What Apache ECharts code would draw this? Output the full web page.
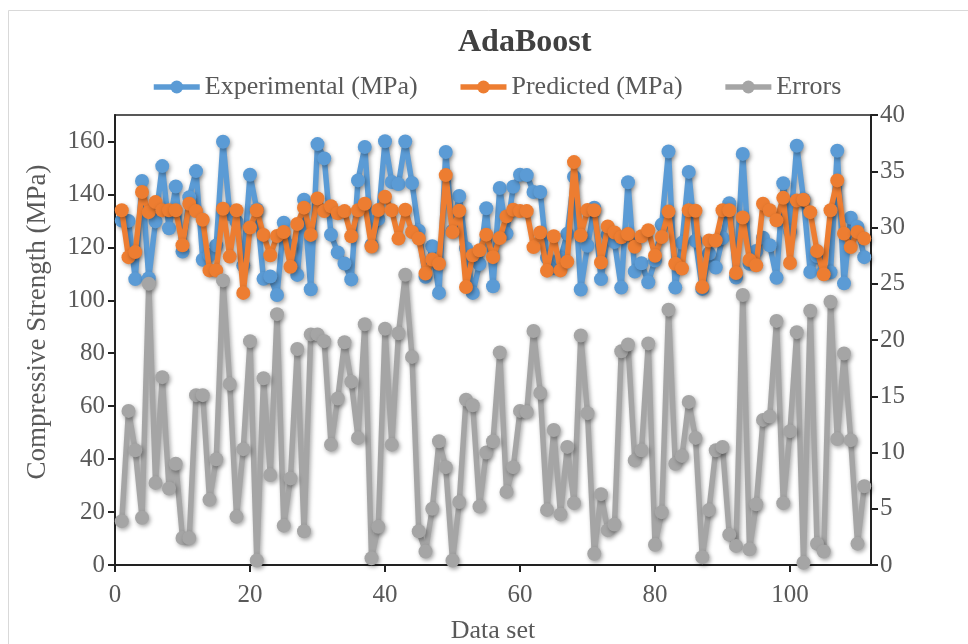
<!DOCTYPE html>
<html>
<head>
<meta charset="utf-8">
<script src="https://cdn.jsdelivr.net/npm/echarts@6/dist/echarts.min.js"></script>
<style>
html,body{margin:0;padding:0;background:#fff;}
#chart{width:968px;height:644px;}
</style>
</head>
<body>
<div id="chart"></div>
<script>
// Data set index 1..111
const experimental = [130.1,130.0,108.0,145.1,108.3,129.8,150.7,127.2,143.0,118.4,138.9,148.8,115.3,117.1,120.7,159.9,132.6,129.7,113.1,147.4,134.4,108.1,109.0,102.0,129.3,120.4,109.6,138.0,104.2,159.0,153.6,124.8,118.1,113.9,107.9,145.3,157.9,120.9,130.7,160.1,144.7,143.9,160.0,144.3,126.3,108.9,120.4,102.8,156.0,126.2,139.4,119.7,102.8,113.7,134.8,105.3,142.4,125.2,142.9,147.4,147.3,140.9,140.9,116.1,112.2,115.8,125.1,146.7,104.1,120.6,135.0,108.0,124.8,122.0,104.8,144.6,110.9,114.0,106.8,115.0,128.6,156.2,104.8,121.7,148.5,122.5,104.3,117.7,112.4,123.5,136.7,108.6,155.3,113.8,118.6,123.6,120.8,108.5,144.2,126.0,158.4,138.2,110.7,116.7,111.0,110.6,156.5,106.4,131.2,127.7,116.3];
const predicted = [134.0,116.3,118.2,140.9,133.3,137.1,134.0,134.0,134.0,120.8,136.5,133.7,130.4,111.3,111.3,134.6,116.5,134.0,102.8,127.5,134.0,124.7,117.0,124.3,125.8,112.7,128.8,135.0,124.7,138.5,133.7,135.5,132.9,133.7,124.2,134.0,136.5,120.3,134.1,139.1,134.0,123.3,134.2,125.8,123.3,110.1,115.4,113.8,147.3,125.8,133.8,105.0,117.0,118.9,124.8,116.3,123.5,131.7,134.2,133.7,133.7,120.1,125.6,111.2,124.2,111.3,114.6,152.2,124.5,134.1,134.0,114.3,127.9,125.6,123.8,125.0,120.2,124.2,126.5,116.8,123.9,133.5,113.8,112.0,134.0,133.8,105.0,122.6,122.6,134.0,134.0,110.3,131.3,115.2,113.2,136.5,134.0,130.2,138.7,114.1,137.7,138.0,133.3,118.6,109.8,134.0,145.3,125.2,120.1,125.8,123.3];
const errors = [3.9,13.7,10.2,4.2,25.0,7.3,16.7,6.8,9.0,2.4,2.4,15.1,15.1,5.8,9.4,25.3,16.1,4.3,10.3,19.9,0.4,16.6,8.0,22.3,3.5,7.7,19.2,3.0,20.5,20.5,19.9,10.7,14.8,19.8,16.3,11.3,21.4,0.6,3.4,21.0,10.7,20.6,25.8,18.5,3.0,1.2,5.0,11.0,8.7,0.4,5.6,14.7,14.2,5.2,10.0,11.0,18.9,6.5,8.7,13.7,13.6,20.8,15.3,4.9,12.0,4.5,10.5,5.5,20.4,13.5,1.0,6.3,3.1,3.6,19.0,19.6,9.3,10.2,19.7,1.8,4.7,22.7,9.0,9.7,14.5,11.3,0.7,4.9,10.2,10.5,2.7,1.7,24.0,1.4,5.4,12.9,13.2,21.7,5.5,11.9,20.7,0.2,22.6,1.9,1.2,23.4,11.2,18.8,11.1,1.9,7.0];
const seriesNames = ['Experimental (MPa)','Predicted (MPa)','Errors'];
const xTicks = [0,20,40,60,80,100];
const leftTicks = [0,20,40,60,80,100,120,140,160];
const rightTicks = [0,5,10,15,20,25,30,35,40];

const toPairs = arr => arr.map((v,i)=>[i+1,v]);
const FONT = '"Liberation Serif","Times New Roman",serif';
const TXT = '#595959';
const shadow = {shadowBlur:4, shadowColor:'rgba(0,0,0,0.35)', shadowOffsetX:1.5, shadowOffsetY:2};

function mkSeries(name, data, color, yIdx, z){
  return {
    name, type:'line', yAxisIndex:yIdx, data:toPairs(data), z,
    symbol:'circle', symbolSize:14, showSymbol:true,
    lineStyle:Object.assign({width:5.5, color}, shadow),
    itemStyle:Object.assign({color}, shadow),
    emphasis:{disabled:true}, animation:false
  };
}

const chart = echarts.init(document.getElementById('chart'), null, {renderer:'canvas'});
chart.setOption({
  backgroundColor:'#fff',
  animation:false,
  graphic:[{type:'rect', shape:{x:8.5,y:10.5,width:965,height:650}, style:{fill:'none', stroke:'#d9d9d9', lineWidth:1}, silent:true}],
  title:{text:'AdaBoost', left:453, top:22, textStyle:{fontFamily:FONT, fontWeight:'bold', fontSize:32, color:'#404040'}},
  legend:{
    data:seriesNames, top:69, left:146, itemWidth:46, itemHeight:16, itemGap:40,
    lineStyle:{width:5.5}, itemStyle:{borderWidth:0},
    textStyle:{fontFamily:FONT, fontSize:26, color:TXT},
    selectedMode:false
  },
  grid:{left:115, right:97, top:115, bottom:79, show:true, borderColor:'#222', borderWidth:1.5, containLabel:false, outerBoundsMode:'none'},
  xAxis:{
    type:'value', min:0, max:112, interval:20,
    name:'Data set', nameLocation:'middle', nameGap:53,
    nameTextStyle:{fontFamily:FONT, fontSize:26, color:TXT},
    axisLine:{show:true, lineStyle:{color:'#222', width:2}},
    axisTick:{show:true, inside:false, length:7, lineStyle:{color:'#222', width:2}},
    axisLabel:{fontFamily:FONT, fontSize:25, color:TXT, margin:18, showMaxLabel:false,
      formatter:v=> xTicks.includes(v)? String(v):''},
    splitLine:{show:false}
  },
  yAxis:[{
    type:'value', min:0, max:170, interval:20, position:'left',
    name:'Compressive Strength (MPa)', nameLocation:'middle', nameGap:64,
    nameTextStyle:{fontFamily:FONT, fontSize:27, color:TXT, padding:[0,0,0,36]},
    axisLine:{show:true, lineStyle:{color:'#222', width:2}},
    axisTick:{show:true, length:7, lineStyle:{color:'#222', width:2}},
    axisLabel:{fontFamily:FONT, fontSize:25, color:TXT, margin:10, showMaxLabel:false,
      formatter:v=> leftTicks.includes(v)? String(v):''},
    splitLine:{show:false}
  },{
    type:'value', min:0, max:40, interval:5, position:'right',
    axisLine:{show:true, lineStyle:{color:'#222', width:2}},
    axisTick:{show:true, length:7, lineStyle:{color:'#222', width:2}},
    axisLabel:{fontFamily:FONT, fontSize:25, color:TXT, margin:9,
      formatter:v=> rightTicks.includes(v)? String(v):''},
    splitLine:{show:false}
  }],
  series:[
    mkSeries(seriesNames[0], experimental, '#5B9BD5', 0, 2),
    mkSeries(seriesNames[1], predicted, '#ED7D31', 0, 3),
    mkSeries(seriesNames[2], errors, '#A5A5A5', 1, 4)
  ]
});
</script>
</body>
</html>
